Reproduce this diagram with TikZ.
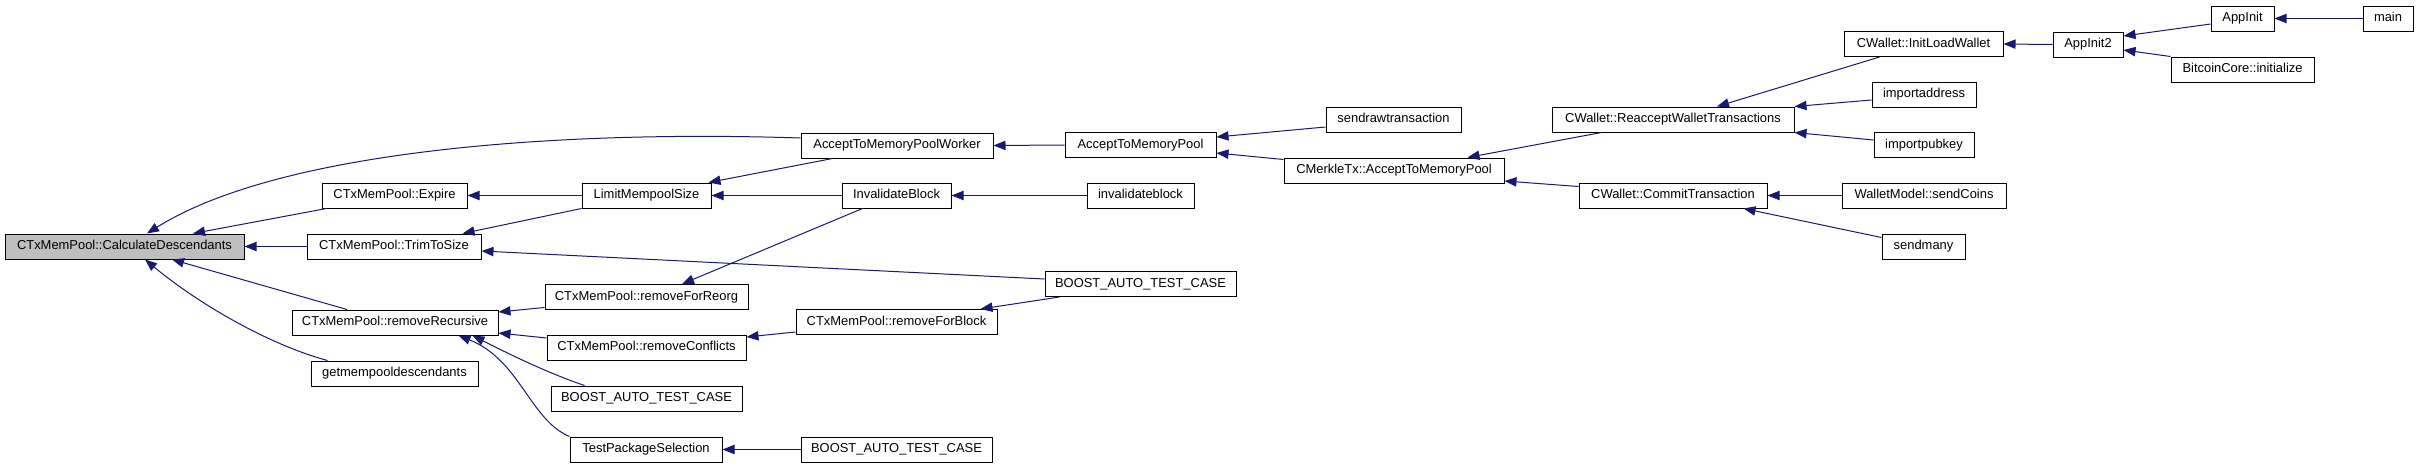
\documentclass[tikz,border=0pt]{standalone}
\usepackage{fontspec}
\setmainfont{Liberation Sans}
\usetikzlibrary{arrows.meta,calc}
\definecolor{mnb}{HTML}{191970}
\definecolor{grayfill}{HTML}{BFBFBF}
\begin{document}
\begin{tikzpicture}[x=0.75pt,y=-0.75pt,
 box/.style={draw=black, line width=0.75pt, fill=white, inner sep=0pt, minimum height=18.75pt, text height=7.1pt, text depth=1.9pt, font=\fontsize{9.7pt}{11pt}\selectfont},
 bw/.style={minimum width=#1*0.75pt},
 cur/.style={box, fill=grayfill},
 link/.style={draw=mnb, line width=0.75pt, -{Triangle[length=9pt,width=7pt]}}
]
\useasboundingbox (0,0) rectangle (2419,468);

\node[cur,bw=239] (calc) at (124.5,246.5) {CTxMemPool::CalculateDescendants};
\node[box,bw=145] (expire) at (394.5,195.5) {CTxMemPool::Expire};
\node[box,bw=174] (trim) at (394,246.5) {CTxMemPool::TrimToSize};
\node[box,bw=206] (remrec) at (395,322.5) {CTxMemPool::removeRecursive};
\node[box,bw=167] (getmem) at (394.5,373.5) {getmempooldescendants};
\node[box,bw=129] (lms) at (646.5,195.5) {LimitMempoolSize};
\node[box,bw=192] (atmpw) at (897,145.5) {AcceptToMemoryPoolWorker};
\node[box,bw=109] (invblk) at (896.5,195.5) {InvalidateBlock};
\node[box,bw=203] (rfreorg) at (646.5,297) {CTxMemPool::removeForReorg};
\node[box,bw=199] (rfconf) at (646.5,347.5) {CTxMemPool::removeConflicts};
\node[box,bw=191] (boostl) at (646.5,398.5) {BOOST\_AUTO\_TEST\_CASE};
\node[box,bw=152] (tps) at (646,449.5) {TestPackageSelection};
\node[box,bw=201] (rfblock) at (896.5,322) {CTxMemPool::removeForBlock};
\node[box,bw=191] (boostb) at (896.5,449.5) {BOOST\_AUTO\_TEST\_CASE};
\node[box,bw=151] (atmp) at (1140.5,145) {AcceptToMemoryPool};
\node[box,bw=107] (invblock) at (1140.5,195.5) {invalidateblock};
\node[box,bw=191] (boostm) at (1140.5,284) {BOOST\_AUTO\_TEST\_CASE};
\node[box,bw=135] (sendraw) at (1393.5,119.5) {sendrawtransaction};
\node[box,bw=220] (merkle) at (1394,170.5) {CMerkleTx::AcceptToMemoryPool};
\node[box,bw=242] (reaccept) at (1673,119.5) {CWallet::ReacceptWalletTransactions};
\node[box,bw=188] (commit) at (1673,195.5) {CWallet::CommitTransaction};
\node[box,bw=159] (ilw) at (1923.5,44) {CWallet::InitLoadWallet};
\node[box,bw=104] (impaddr) at (1924,94.5) {importaddress};
\node[box,bw=100] (imppub) at (1924,145) {importpubkey};
\node[box,bw=164] (sendcoins) at (1924,195.5) {WalletModel::sendCoins};
\node[box,bw=83] (sendmany) at (1923.5,246.5) {sendmany};
\node[box,bw=70] (appinit2) at (2088,44.5) {AppInit2};
\node[box,bw=63] (appinit) at (2242.5,18.5) {AppInit};
\node[box,bw=143] (bci) at (2242.5,69.5) {BitcoinCore::initialize};
\node[box,bw=50] (main) at (2388,18.5) {main};

\draw[link] ($(expire.south west)+(5,0)$) -- ($(calc.north)+(68.5,0)$);
\draw[link] ($(atmpw.west)+(0,-7.5)$) .. controls (560,130) and (280,150) .. ($(calc.north)+(22.5,0)$);
\draw[link] (trim.west) -- (calc.east);
\draw[link] ($(remrec.north)+(-48,0)$) -- ($(calc.south)+(47.5,0)$);
\draw[link] ($(getmem.north west)+(17,0)$) .. controls (270,345) and (200,305) .. ($(calc.south)+(20.5,0)$);
\draw[link] (lms.west) -- (expire.east);
\draw[link] (lms.south west) -- ($(trim.north east)+(-19,0)$);
\draw[link] ($(boostm.west)+(0,-5)$) -- ($(trim.east)+(0,4.5)$);
\draw[link] ($(atmpw.south west)+(32,0)$) -- ($(lms.north east)+(-3,0)$);
\draw[link] (invblk.west) -- (lms.east);
\draw[link] (atmp.west) -- (atmpw.east);
\draw[link] (invblock.west) -- (invblk.east);
\draw[link] ($(invblk.south west)+(21,0)$) -- ($(rfreorg.north)+(35.5,0)$);
\draw[link] ($(rfreorg.west)+(0,10.5)$) -- ($(remrec.east)+(0,-10.5)$);
\draw[link] ($(rfconf.west)+(0,-9.5)$) -- ($(remrec.east)+(0,10.5)$);
\draw[link] ($(boostl.north west)+(34,0)$) .. controls (545,372) and (505,352) .. ($(remrec.south east)+(-26,0)$);
\draw[link] (tps.north west) .. controls (530,420) and (520,360) .. ($(remrec.south east)+(-40,0)$);
\draw[link] ($(rfblock.west)+(0,10)$) -- ($(rfconf.east)+(0,-10.5)$);
\draw[link] ($(boostm.south west)+(15,0)$) -- ($(rfblock.north east)+(-17,0)$);
\draw[link] (boostb.west) -- (tps.east);
\draw[link] ($(sendraw.west)+(0,7.5)$) -- ($(atmp.east)+(0,-8)$);
\draw[link] ($(merkle.west)+(0,-11)$) -- ($(atmp.east)+(0,8)$);
\draw[link] ($(reaccept.south west)+(50,0)$) -- ($(merkle.north east)+(-37,0)$);
\draw[link] ($(commit.west)+(0,-9)$) -- ($(merkle.east)+(0,10.5)$);
\draw[link] ($(ilw.south west)+(36,0)$) -- ($(reaccept.north)+(44,0)$);
\draw[link] ($(impaddr.west)+(0,5.5)$) -- (reaccept.north east);
\draw[link] ($(imppub.west)+(0,-5)$) -- (reaccept.south east);
\draw[link] (sendcoins.west) -- (commit.east);
\draw[link] ($(sendmany.north west)+(0,4)$) -- ($(commit.south east)+(-24,0)$);
\draw[link] (appinit2.west) -- (ilw.east);
\draw[link] ($(appinit.west)+(0,5.5)$) -- ($(appinit2.east)+(0,-8.5)$);
\draw[link] (bci.north west) -- ($(appinit2.east)+(0,5.5)$);
\draw[link] (main.west) -- (appinit.east);
\end{tikzpicture}
\end{document}
